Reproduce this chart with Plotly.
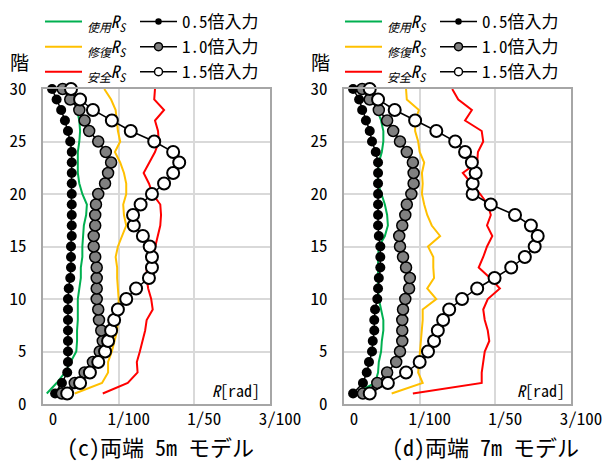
import plotly.graph_objects as go

# Story number (1F .. 30F) and the range over which the service-limit drift is defined
floors = list(range(1, 31))
floors_use = list(range(1, 29))

# Story drift angles, in units of 1/1000 rad

# (c) both ends 5 m model
use_5m = [0.5, 1.8, 2.9, 3.7, 4.4, 4.5, 4.5, 4.6, 4.6, 4.6, 4.8, 5.0, 5.0, 5.2,
          5.2, 5.3, 5.4, 5.7, 5.8, 5.2, 4.8, 4.6, 4.6, 4.6, 4.8, 4.9, 4.8, 4.5]
repair_5m = [4.2, 7.8, 8.6, 8.6, 9.1, 9.5, 9.8, 9.9, 10.0, 10.0, 9.9, 9.8, 9.8, 9.6, 9.9,
             10.4, 11.0, 10.7, 10.6, 11.0, 11.0, 10.7, 10.2, 9.5, 10.2, 9.9, 9.8, 9.6, 9.0, 8.1]
safety_5m = [7.9, 11.2, 12.5, 12.4, 12.8, 13.2, 13.5, 13.7, 14.5, 14.3, 13.9, 13.7, 13.7, 14.5, 14.8,
             15.2, 15.5, 15.6, 15.5, 14.5, 14.0, 13.3, 14.1, 14.8, 15.3, 15.2, 14.8, 16.0, 14.7, 14.8]
in05_5m = [1.6, 2.5, 3.2, 3.3, 3.3, 3.3, 3.3, 3.3, 3.3, 3.3, 3.4, 3.6, 3.7, 3.7, 3.7,
           3.8, 3.8, 3.8, 3.8, 3.8, 3.8, 3.8, 3.8, 3.8, 3.6, 3.3, 2.9, 2.4, 1.8, 1.2]
in10_5m = [2.5, 4.2, 5.5, 6.6, 7.5, 7.9, 7.7, 7.4, 7.3, 7.1, 7.1, 7.1, 7.1, 6.9, 6.7,
           6.7, 6.9, 6.9, 7.0, 7.3, 8.2, 8.6, 9.0, 8.3, 7.3, 6.1, 5.5, 4.8, 3.6, 2.6]
in15_5m = [3.2, 4.9, 6.2, 7.3, 8.2, 8.6, 9.0, 9.4, 9.9, 11.0, 12.3, 14.0, 14.4, 14.4, 14.1,
           13.2, 12.0, 11.9, 12.9, 14.4, 16.0, 17.2, 18.0, 17.2, 14.7, 11.6, 9.1, 6.6, 4.9, 3.7]

# (d) both ends 7 m model
use_7m = [1.5, 4.1, 4.5, 4.6, 4.9, 5.0, 5.2, 5.2, 4.9, 4.6, 4.5, 4.5, 4.5, 4.5,
          4.6, 5.4, 5.8, 5.7, 5.4, 5.0, 4.5, 4.5, 4.6, 5.0, 5.2, 5.2, 4.9, 4.4]
repair_7m = [6.3, 10.4, 9.8, 9.9, 10.0, 10.2, 10.3, 10.4, 10.4, 12.2, 11.0, 11.9, 11.8, 11.8, 11.1,
             12.7, 11.6, 11.0, 10.6, 10.3, 10.4, 10.3, 10.6, 10.0, 9.8, 9.4, 9.4, 9.9, 8.3, 8.2]
safety_7m = [9.1, 18.2, 18.2, 18.4, 18.6, 19.2, 19.0, 18.6, 18.4, 19.0, 20.6, 19.3, 17.8, 18.4, 18.9,
             19.6, 18.9, 19.4, 19.0, 18.0, 16.9, 15.7, 17.6, 17.7, 18.4, 18.2, 16.0, 16.9, 15.1, 14.3]
in05_7m = [1.2, 2.5, 3.0, 3.3, 3.7, 3.8, 4.0, 4.0, 4.1, 4.4, 4.5, 4.6, 4.8, 4.8, 4.8,
           4.6, 4.5, 4.5, 4.5, 4.5, 4.5, 4.5, 4.5, 4.2, 3.7, 3.4, 2.9, 2.4, 2.0, 1.2]
in10_7m = [2.5, 4.4, 5.7, 6.9, 7.4, 7.7, 7.7, 7.7, 7.8, 8.1, 8.6, 8.7, 8.2, 7.8, 7.4,
           7.3, 7.7, 8.1, 8.3, 8.9, 9.2, 9.2, 9.1, 8.3, 7.4, 6.5, 5.7, 4.6, 3.4, 2.4]
in15_7m = [3.4, 5.8, 8.2, 10.0, 11.1, 11.9, 12.4, 13.1, 13.9, 15.6, 17.6, 19.9, 22.1, 23.9, 25.2,
           25.6, 24.7, 22.6, 19.4, 17.0, 17.0, 17.4, 16.9, 16.0, 14.7, 12.2, 9.4, 6.7, 4.5, 3.4]

x_tickvals = [0, 10, 20, 30]
x_ticktext = ["0", "1/100", "1/50", "3/100"]
y_tickvals = [0, 5, 10, 15, 20, 25, 30]

limit_names = [
    "<sub><i>使用</i></sub><i>R</i><sub><i>S</i></sub>",
    "<sub><i>修復</i></sub><i>R</i><sub><i>S</i></sub>",
    "<sub><i>安全</i></sub><i>R</i><sub><i>S</i></sub>",
]
limit_colors = ["#00b050", "#ffc000", "#ff0000"]
input_names = ["0.5倍入力", "1.0倍入力", "1.5倍入力"]
input_fill = ["black", "#808080", "white"]
input_size = [10, 11, 12]
input_line = [0, 1.5, 2]
legend_marker_size = [5, 8, 8]

FONT = "Noto Sans Mono CJK JP, Noto Sans CJK JP"
W, H = 607, 469

fig = go.Figure()

panels = [
    ("x", "y", "legend", "legend2",
     [(floors_use, use_5m), (floors, repair_5m), (floors, safety_5m)],
     [in05_5m, in10_5m, in15_5m]),
    ("x2", "y2", "legend3", "legend4",
     [(floors_use, use_7m), (floors, repair_7m), (floors, safety_7m)],
     [in05_7m, in10_7m, in15_7m]),
]

for xa, ya, lg_lim, lg_in, limits, inputs in panels:
    # limit drift curves (drawn underneath the response markers)
    for (fl, vals), name, col in zip(limits, limit_names, limit_colors):
        fig.add_trace(go.Scatter(
            x=vals, y=fl, mode="lines", name=name,
            line=dict(color=col, width=2),
            xaxis=xa, yaxis=ya, legend=lg_lim, cliponaxis=False,
        ))
    # response for each input level
    for vals, name, fill, sz, lw in zip(inputs, input_names, input_fill, input_size, input_line):
        fig.add_trace(go.Scatter(
            x=vals, y=floors, mode="lines+markers", name=name,
            line=dict(color="black", width=1.5),
            marker=dict(size=sz, color=fill, line=dict(color="black", width=lw)),
            xaxis=xa, yaxis=ya, showlegend=False, cliponaxis=False,
        ))
    # legend keys with smaller symbols
    for name, fill, msz in zip(input_names, input_fill, legend_marker_size):
        fig.add_trace(go.Scatter(
            x=[None], y=[None], mode="lines+markers", name=name,
            line=dict(color="black", width=1.5),
            marker=dict(size=msz, color=fill, line=dict(color="black", width=1.5)),
            xaxis=xa, yaxis=ya, legend=lg_in,
        ))

axis_common = dict(
    range=[0, 30], showgrid=True, gridcolor="#d9d9d9", gridwidth=2,
    showline=True, mirror=True, linecolor="#a6a6a6", linewidth=2,
    zeroline=False, ticks="", tickfont=dict(family=FONT, size=17, color="black"),
    fixedrange=True, automargin=False,
)

y_dom = [1 - 404 / H, 1 - 89 / H]
fig.update_layout(
    width=W, height=H,
    margin=dict(l=0, r=0, t=0, b=0, autoexpand=False),
    paper_bgcolor="white", plot_bgcolor="white",
    font=dict(family=FONT, color="black"),
    xaxis=dict(domain=[43 / W, 270 / W], anchor="y", tickvals=x_tickvals, ticktext=x_ticktext,
               ticklabelshift=10, ticklabelstandoff=-1, **axis_common),
    xaxis2=dict(domain=[344 / W, 571 / W], anchor="y2", tickvals=x_tickvals, ticktext=x_ticktext,
                ticklabelshift=10, ticklabelstandoff=-1, **axis_common),
    yaxis=dict(domain=y_dom, anchor="x", tickvals=y_tickvals, ticklabelstandoff=11, **axis_common),
    yaxis2=dict(domain=y_dom, anchor="x2", tickvals=y_tickvals, ticklabelstandoff=11, **axis_common),
)

legend_common = dict(xanchor="left", yanchor="top", bgcolor="rgba(0,0,0,0)",
                     borderwidth=0, itemwidth=37, tracegroupgap=0, traceorder="normal")
fig.update_layout(
    legend=dict(x=40 / W, y=1 - 4 / H, font=dict(family=FONT, size=17), **legend_common),
    legend2=dict(x=135 / W, y=1 - 4 / H, font=dict(family=FONT, size=17), **legend_common),
    legend3=dict(x=340 / W, y=1 - 4 / H, font=dict(family=FONT, size=17), **legend_common),
    legend4=dict(x=435 / W, y=1 - 4 / H, font=dict(family=FONT, size=17), **legend_common),
)

annotations = []
for cx, title, rx in [(160, "(c)両端 5m モデル", 262), (485, "(d)両端 7m モデル", 567)]:
    annotations.append(dict(x=cx / W, y=1 - 446 / H, xref="paper", yref="paper",
                            text=title, showarrow=False, xanchor="center", yanchor="middle",
                            font=dict(family=FONT, size=22)))
    annotations.append(dict(x=rx / W, y=1 - 390 / H, xref="paper", yref="paper",
                            text="<i>R</i>[rad]", showarrow=False, xanchor="right", yanchor="middle",
                            font=dict(family=FONT, size=16)))
for lx in (19, 321):
    annotations.append(dict(x=lx / W, y=1 - 61 / H, xref="paper", yref="paper",
                            text="階", showarrow=False, xanchor="center", yanchor="middle",
                            font=dict(family=FONT, size=19)))
fig.update_layout(annotations=annotations)

fig.write_html("out.html")
